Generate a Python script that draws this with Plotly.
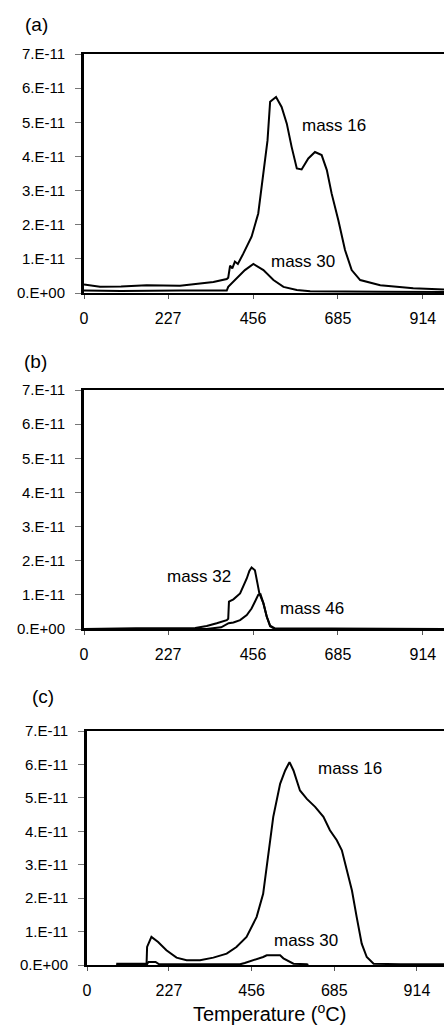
import plotly.graph_objects as go

# ---------------- data (values in units of 1e-11) ----------------
# panel (a)
a_m16_T = [0, 20, 43, 100, 169, 259, 331, 349, 385, 389, 394, 400, 407, 415, 430, 452, 470, 482, 495,
           502, 518, 533, 547, 560, 574, 587, 605, 623, 641, 655, 668, 686, 704, 722, 745, 799, 888, 971]
a_m16_v = [0.25, 0.22, 0.18, 0.19, 0.23, 0.21, 0.29, 0.32, 0.41, 0.45, 0.8, 0.72, 0.92, 0.85, 1.16,
           1.65, 2.33, 3.3, 4.47, 5.6, 5.74, 5.45, 4.96, 4.28, 3.65, 3.62, 3.94, 4.13, 4.04, 3.6,
           2.91, 2.13, 1.26, 0.67, 0.38, 0.23, 0.14, 0.1]
a_m30_T = [0, 100, 259, 385, 389, 407, 434, 457, 484, 511, 538, 574, 610, 800, 971]
a_m30_v = [0.07, 0.06, 0.07, 0.07, 0.18, 0.38, 0.67, 0.85, 0.67, 0.38, 0.18, 0.09, 0.05, 0.04, 0.03]

# panel (b)
b_m32_T = [0, 120, 140, 300, 331, 358, 385, 389, 391, 403, 421, 439, 446, 452, 461, 468, 473, 484,
           493, 502, 515, 971]
b_m32_v = [0, 0, 0.02, 0.03, 0.09, 0.17, 0.26, 0.3, 0.8, 0.87, 1.04, 1.48, 1.7, 1.8, 1.72, 1.33,
           1.04, 0.75, 0.36, 0.1, 0.02, 0]
b_m46_T = [0, 330, 370, 390, 403, 421, 439, 452, 461, 470, 476, 484, 493, 502, 515, 971]
b_m46_v = [0, 0, 0.05, 0.17, 0.19, 0.26, 0.41, 0.6, 0.8, 1.0, 1.02, 0.75, 0.36, 0.08, 0, 0]

# panel (c)
c_m16_T = [81, 165, 166.5, 178.5, 197, 220, 248, 276, 313, 350, 387, 414, 442, 470, 488, 502, 516,
           535, 549, 561, 572, 590, 609, 632, 655, 673, 692, 706, 720, 734, 747, 761, 775, 794, 868, 989]
c_m16_v = [0.04, 0.04, 0.54, 0.84, 0.69, 0.44, 0.22, 0.14, 0.14, 0.22, 0.34, 0.54, 0.84, 1.44, 2.13,
           3.23, 4.43, 5.42, 5.82, 6.07, 5.82, 5.22, 4.97, 4.73, 4.43, 4.03, 3.73, 3.43, 2.83, 2.23,
           1.44, 0.64, 0.24, 0.04, 0.02, 0.02]
c_m30_T = [81, 165, 170, 190, 200, 424, 437, 461, 488, 498, 535, 544, 562, 572, 609, 613]
c_m30_v = [0, 0, 0.09, 0.09, 0.02, 0.02, 0.06, 0.14, 0.24, 0.29, 0.29, 0.2, 0.09, 0.04, 0.02, 0.0]

x_tickvals = [0, 227, 456, 685, 914]
x_ticktext = ["0", "227", "456", "685", "914"]
y_tickvals = [0, 1, 2, 3, 4, 5, 6, 7]
y_ticktext = ["0.E+00", "1.E-11", "2.E-11", "3.E-11", "4.E-11", "5.E-11", "6.E-11", "7.E-11"]

FONT = "Liberation Sans, Arial, Helvetica, sans-serif"
W, H = 444, 1026

fig = go.Figure()
line = dict(color="black", width=2)
panels = [
    ("x", "y", [(a_m16_T, a_m16_v), (a_m30_T, a_m30_v)]),
    ("x2", "y2", [(b_m32_T, b_m32_v), (b_m46_T, b_m46_v)]),
    ("x3", "y3", [(c_m16_T, c_m16_v), (c_m30_T, c_m30_v)]),
]
for xa, ya, series in panels:
    for T, v in series:
        fig.add_trace(go.Scatter(x=T, y=v, mode="lines", line=line, xaxis=xa, yaxis=ya,
                                 showlegend=False, hoverinfo="skip"))

def ydom(top, bottom):
    return [1 - bottom / H, 1 - top / H]

xcommon = dict(tickvals=x_tickvals, ticktext=x_ticktext, showgrid=False, zeroline=False,
               showline=True, linecolor="black", linewidth=2, mirror=True, ticks="outside",
               ticklen=4, tickcolor="#555", tickwidth=1, automargin=False,
               tickfont=dict(family=FONT, size=16, color="black"), ticklabelstandoff=6)
ycommon = dict(tickvals=y_tickvals, ticktext=y_ticktext, range=[0, 7], showgrid=False,
               zeroline=False, showline=True, linecolor="black", linewidth=3, ticks="outside",
               ticklen=6, tickcolor="#777", tickwidth=1, automargin=False,
               tickfont=dict(family=FONT, size=15, color="black"), ticklabelstandoff=7)

fig.update_layout(
    template="none",
    width=W, height=H, margin=dict(l=0, r=0, t=0, b=0, pad=0, autoexpand=False),
    paper_bgcolor="white", plot_bgcolor="white", showlegend=False,
    xaxis=dict(domain=[84 / W, 1], range=[0, 971], anchor="y", **xcommon),
    yaxis=dict(domain=ydom(54, 293), anchor="x", **ycommon),
    xaxis2=dict(domain=[84 / W, 1], range=[0, 971], anchor="y2", **xcommon),
    yaxis2=dict(domain=ydom(390, 629), anchor="x2", **ycommon),
    xaxis3=dict(domain=[87 / W, 1], range=[0, 989], anchor="y3", **xcommon),
    yaxis3=dict(domain=ydom(731, 965), anchor="x3", **ycommon),
)

ann_font = dict(family=FONT, size=17, color="black")
labels = [
    ("x", "y", 673, 4.92, "mass 16"), ("x", "y", 592, 0.93, "mass 30"),
    ("x2", "y2", 309, 1.53, "mass 32"), ("x2", "y2", 616, 0.6, "mass 46"),
    ("x3", "y3", 729, 5.87, "mass 16"), ("x3", "y3", 607, 0.72, "mass 30"),
]
for xr, yr, xv, yv, t in labels:
    fig.add_annotation(x=xv, y=yv, xref=xr, yref=yr, text=t, showarrow=False, font=ann_font,
                       xanchor="center", yanchor="middle")

for cx, cy, t in [(36, 24, "(a)"), (35, 361, "(b)"), (43, 696, "(c)")]:
    fig.add_annotation(x=cx / W, y=1 - cy / H, xref="paper", yref="paper", text=t,
                       showarrow=False, font=dict(family=FONT, size=19, color="black"),
                       xanchor="center", yanchor="middle")

fig.add_annotation(x=269 / W, y=1 - 1012 / H, xref="paper", yref="paper",
                   text="Temperature (<sup>o</sup>C)", showarrow=False,
                   font=dict(family=FONT, size=20, color="black"),
                   xanchor="center", yanchor="middle")

fig.write_html("out.html",
               post_script="document.body.style.margin='0';document.body.style.padding='0';")
